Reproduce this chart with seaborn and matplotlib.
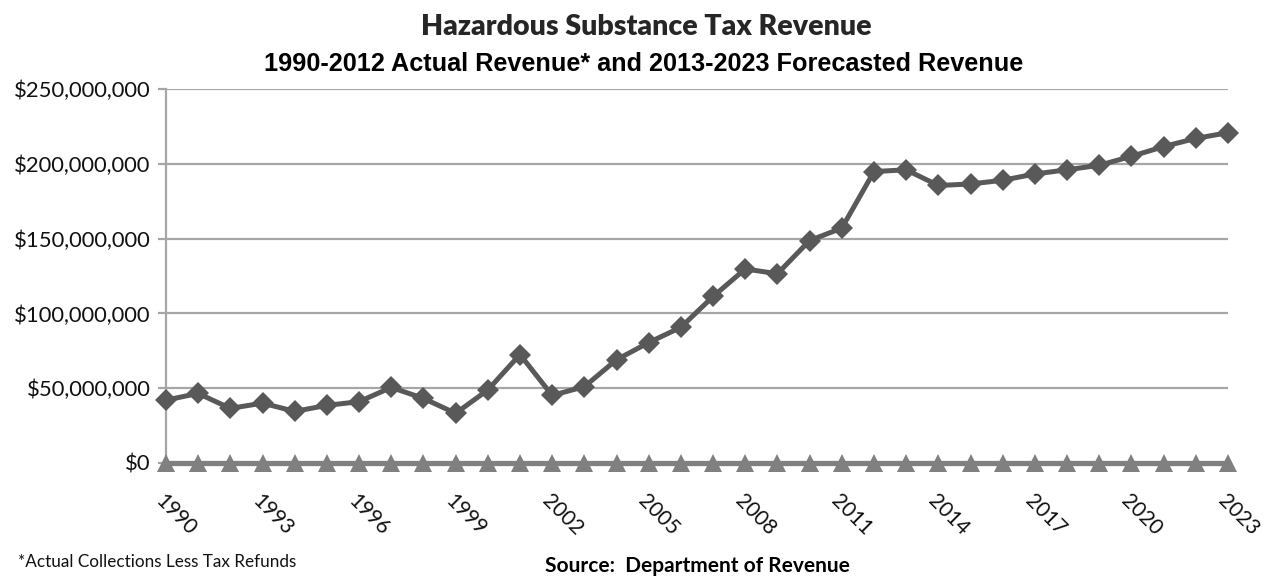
import seaborn as sns
import pandas as pd
import matplotlib.pyplot as plt
from matplotlib.ticker import FuncFormatter

years = list(range(1990, 2024))
revenue = [42.0, 46.5, 36.5, 40.0, 34.5, 38.5, 41.0, 50.5, 43.2, 33.2,
           48.8, 72.5, 45.2, 51.0, 69.0, 80.5, 90.7, 111.3, 129.7, 126.5,
           148.7, 157.0, 194.8, 196.0, 185.5, 186.5, 189.0, 193.2, 196.0, 199.0,
           205.0, 211.5, 217.0, 220.8]
refunds = [0] * len(years)
tick_years = list(range(1990, 2024, 3))

df = pd.DataFrame({'Year': years,
                   'Revenue': [v * 1e6 for v in revenue],
                   'Zero': refunds})

sns.set_theme(style='white')
plt.rcParams['font.family'] = ['Lato', 'DejaVu Sans']

fig = plt.figure(figsize=(12.64, 5.78), dpi=100)
ax = fig.add_axes([0.1313, 0.199, 0.8402, 0.647])

# zero series first, revenue on top
sns.lineplot(data=df, x='Year', y='Zero', ax=ax, color='#808080', linewidth=3.8,
             marker='^', markersize=13, markeredgewidth=0, zorder=3, clip_on=False)
sns.lineplot(data=df, x='Year', y='Revenue', ax=ax, color='#595959', linewidth=3.6,
             marker='D', markersize=11.5, markeredgewidth=0, zorder=4, clip_on=False)

ax.set_xlim(1990, 2023)
ax.set_ylim(0, 250e6)
ax.set_yticks([0, 50e6, 100e6, 150e6, 200e6, 250e6])
ax.yaxis.set_major_formatter(FuncFormatter(lambda v, p: '${:,.0f}'.format(v)))
ax.yaxis.grid(True, color='#a6a6a6', linewidth=1.6)
ax.set_axisbelow(True)
ax.set_xlabel('')
ax.set_ylabel('')

for s in ['top', 'right', 'bottom']:
    ax.spines[s].set_visible(False)
ax.spines['left'].set_color('#a6a6a6')
ax.spines['left'].set_linewidth(1.6)

ax.tick_params(axis='y', which='major', left=True, length=6, width=1.6,
               color='#a6a6a6', labelsize=15.8, pad=5, labelcolor='#111111')
ax.set_xticks(tick_years)
ax.set_xticklabels([str(y) for y in tick_years], rotation=-45, ha='left',
                   rotation_mode='anchor', fontsize=15, color='#111111')
ax.tick_params(axis='x', bottom=False, pad=14)

fig.text(0.511, 0.953, 'Hazardous Substance Tax Revenue', ha='center', va='center',
         fontsize=20.5, fontweight='heavy', family=['Liberation Sans Narrow', 'Lato'])
fig.text(0.509, 0.889, '1990-2012 Actual Revenue* and 2013-2023 Forecasted Revenue',
         ha='center', va='center', fontsize=18.2, fontweight='bold',
         family=['Liberation Sans', 'DejaVu Sans'], color='black')
fig.text(0.014, 0.028, '*Actual Collections Less Tax Refunds', ha='left', va='center',
         fontsize=12.3, color='#111111')
fig.text(0.431, 0.02, 'Source:  Department of Revenue', ha='left', va='center',
         fontsize=15, fontweight='bold', color='black')

fig.savefig('out.png', dpi=100)
